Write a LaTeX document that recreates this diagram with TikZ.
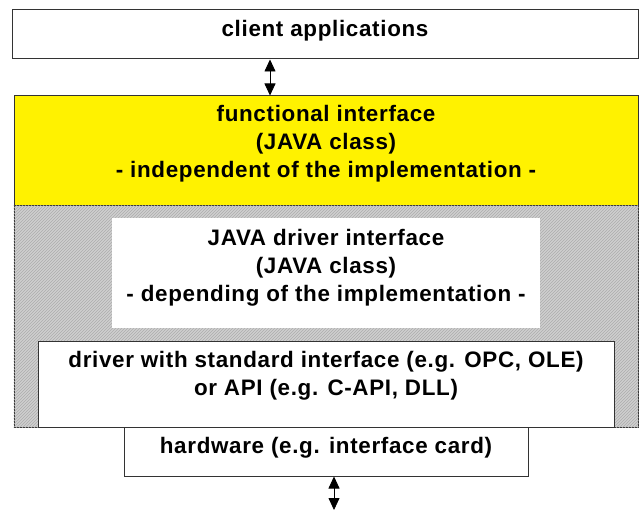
\documentclass[tikz,border=0pt]{standalone}
\usepackage{fontspec}
\setmainfont{Liberation Sans}[LetterSpace=3]
\usetikzlibrary{patterns,arrows.meta}

\begin{document}
\begin{tikzpicture}[x=1pt, y=-1pt, thick,
    box/.style={draw=black!80, line width=1pt, rectangle, inner sep=0pt},
    txt/.style={align=center, font=\fontsize{22.4}{28}\selectfont\bfseries},
    >={Triangle[length=12pt, width=11pt]}]
    \useasboundingbox (0, 0) rectangle (644, 510);

    % layers
    \node[box, fill=white, minimum width=626, minimum height=49] (client) at (325, 34.5) {};
    \node[box, fill=yellow, minimum width=624, minimum height=110] (func) at (326, 151) {};
    \node[box, fill=gray!38, minimum width=624, minimum height=221] (grey) at (326, 316.5) {};
    \fill[pattern=north east lines, pattern color=gray!65] (grey.north west) rectangle (grey.south east);
    \node[rectangle, fill=white, minimum width=428, minimum height=110] (jdrv) at (326, 273) {};
    \node[box, fill=white, minimum width=576, minimum height=86] (drv) at (326, 384) {};
    \node[box, fill=white, minimum width=404, minimum height=49] (hw) at (326, 451.5) {};

    % texts
    \node[txt] (clientT) at (325, 31) {client applications};
    \node[txt] (funcT) at (326, 144) {functional interface\\(JAVA class)\\- independent of the implementation -};
    \node[txt] (jdrvT) at (326, 268) {JAVA driver interface\\(JAVA class)\\- depending of the implementation -};
    \node[txt] (drvT) at (326, 375.5) {driver with standard interface (e.g. OPC, OLE)\\or API (e.g. C-API, DLL)};
    \node[txt] (hwT) at (326, 448) {hardware (e.g. interface card)};

    % arrows
    \coordinate (a1) at (270, 0);
    \coordinate (a2) at (334, 510);
    \draw[<->, line width=0.8pt] (client.south -| a1) -- (func.north -| a1);
    \draw[<->, line width=0.8pt] (hw.south -| a2) -- (a2);
\end{tikzpicture}
\end{document}
